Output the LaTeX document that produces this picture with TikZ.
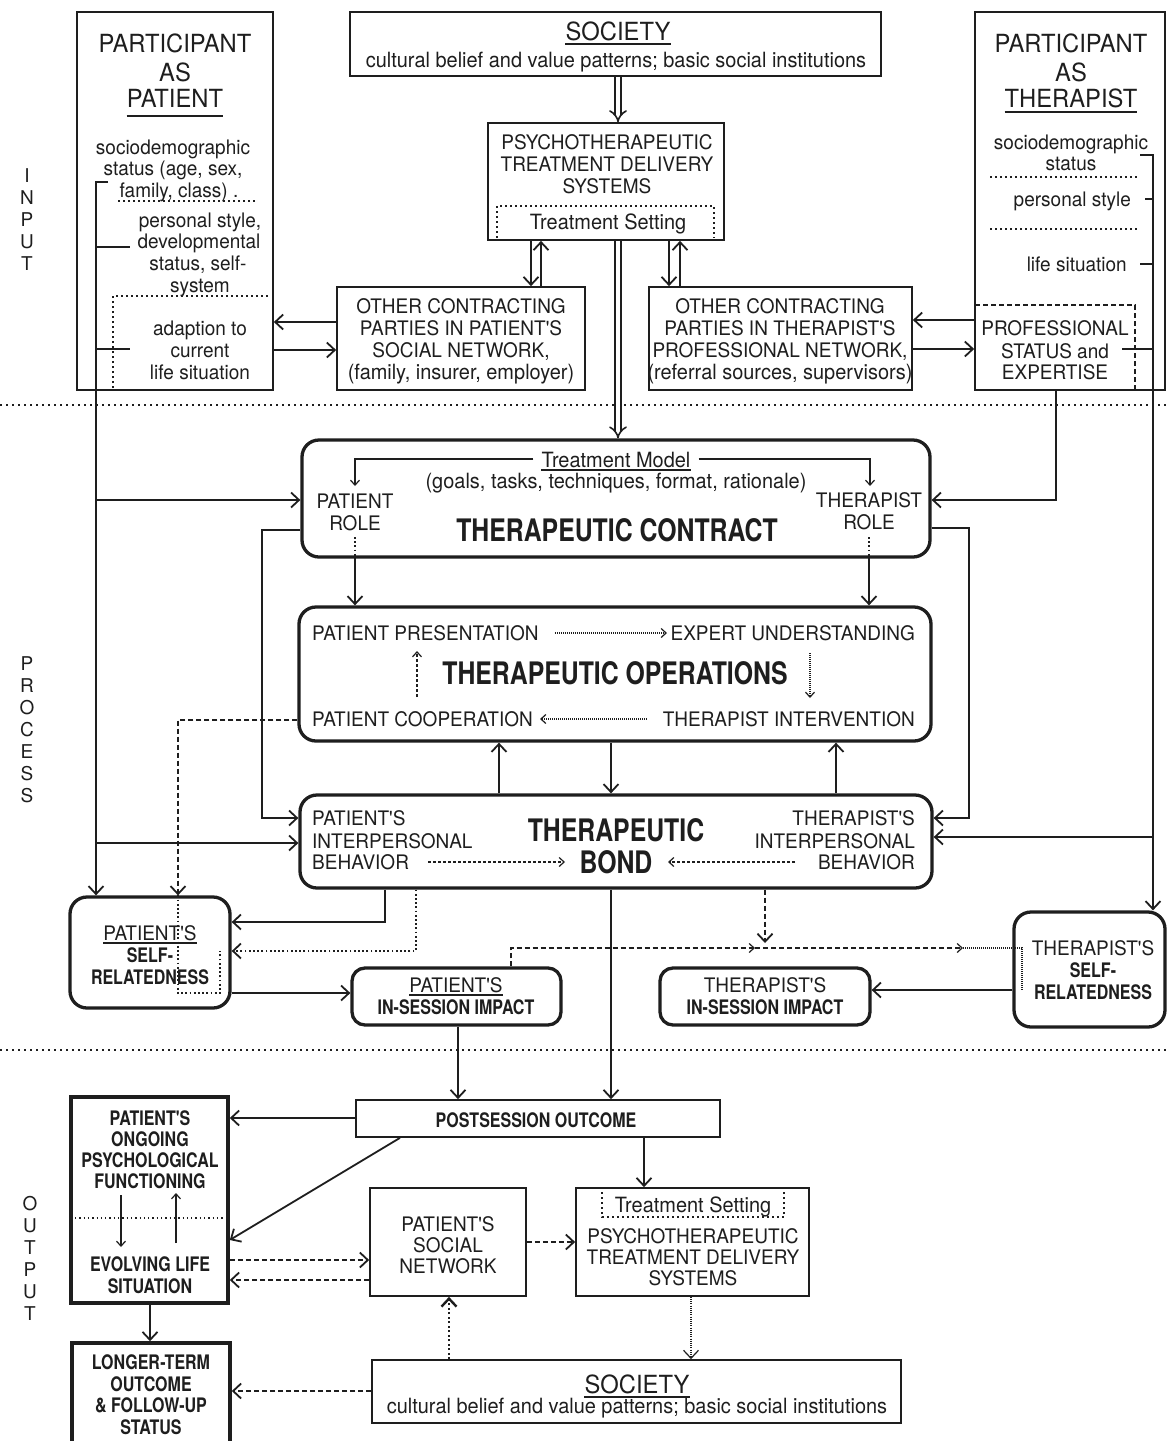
\documentclass[tikz,border=0pt]{standalone}
\usepackage{fontspec}
\setmainfont{TeX Gyre Heros}
\newfontfamily\rgf[FakeStretch=0.95]{TeX Gyre Heros}
\newfontfamily\bdf[FakeStretch=0.8]{TeX Gyre Heros}
\usetikzlibrary{arrows.meta}
\definecolor{ink}{HTML}{1E1E1E}
\newcommand\txl[5]{\node[anchor=base,#1] (#2) at (#3,#4) {#5};}
\newcommand\mkbox[6]{\node[#1,minimum width={(#5-#3)*1pt},minimum height={(#6-#4)*1pt}] (#2) at ({(#3+#5)/2},{(#4+#6)/2}) {};}
\newcommand\undl[2]{\draw[ink,line width=1.3pt] ([yshift=-#2pt]#1.base west) -- ([yshift=-#2pt]#1.base east);}
\tikzset{
  every node/.style={text=ink},
  rg/.style={inner sep=0pt,font={\rgf\fontsize{20}{22}\selectfont}},
  lc/.style={inner sep=0pt,font={\rgf\fontsize{21}{22}\selectfont}},
  tt/.style={inner sep=0pt,font={\rgf\fontsize{25}{27}\selectfont}},
  bs/.style={inner sep=0pt,font={\bdf\bfseries\fontsize{20}{22}\selectfont}},
  bl/.style={inner sep=0pt,font={\bdf\bfseries\fontsize{31}{33}\selectfont}},
  sd/.style={inner sep=0pt,align=center,font={\fontsize{19}{22}\selectfont}},
  tbox/.style={draw=ink,line width=1.7pt,inner sep=0pt},
  kbox/.style={draw=ink,line width=3.6pt,inner sep=0pt},
  rbox/.style={draw=ink,line width=3.3pt,rounded corners=17pt,inner sep=0pt},
  sbox/.style={draw=ink,line width=3.3pt,rounded corners=13pt,inner sep=0pt},
  ln/.style={draw=ink,line width=1.8pt},
  fine/.style={draw=ink,line width=1.2pt},
  arr/.style={-{Straight Barb[length=8pt,width=15pt]}},
  sarr/.style={-{Straight Barb[length=5pt,width=9pt]}},
  dsh/.style={dash pattern=on 5pt off 3pt},
  dtt/.style={dash pattern=on 1.8pt off 2.4pt},
  dotsep/.style={draw=ink,line width=1.7pt,dash pattern=on 1.7pt off 4.3pt},
  dotin/.style={draw=ink,line width=1.6pt,dash pattern=on 1.6pt off 3.4pt},
  dbl/.style={draw=ink,double,double distance=4.5pt,line width=1.6pt,-{Implies}},
}
\begin{document}
\begin{tikzpicture}[x=1pt,y=-1pt]
\useasboundingbox (0,0) rectangle (1168,1441);
\fill[white] (0,0) rectangle (1168,1441);

% separators
\path[dotsep] (0,405) -- (1168,405);
\path[dotsep] (0,1050) -- (1168,1050);

% side labels
\node[sd,anchor=north] (sideIn) at (27,168) {I\\N\\P\\U\\T};
\node[sd,anchor=north] (sideProc) at (27,656) {P\\R\\O\\C\\E\\S\\S};
\node[sd,anchor=north] (sideOut) at (30,1196) {O\\U\\T\\P\\U\\T};

% boxes
\mkbox{tbox}{ppat}{77}{12}{273}{390}
\mkbox{tbox}{socA}{350}{12}{881}{76}
\mkbox{tbox}{ptdsA}{488}{123}{724}{240}
\mkbox{tbox}{ocp}{337}{287}{585}{390}
\mkbox{tbox}{oct}{649}{287}{912}{390}
\mkbox{tbox}{pthe}{975}{12}{1165}{390}
\mkbox{rbox}{contract}{302}{440}{930}{557}
\mkbox{rbox}{ops}{299}{607}{931}{741}
\mkbox{rbox}{bond}{300}{795}{932}{888}
\mkbox{rbox}{pself}{70}{897}{230}{1008}
\mkbox{sbox}{pimp}{352}{968}{561}{1025}
\mkbox{sbox}{timp}{660}{968}{870}{1025}
\mkbox{rbox}{tself}{1014}{912}{1165}{1027}
\mkbox{tbox}{post}{356}{1100}{720}{1137}
\mkbox{kbox}{ongo}{71}{1097}{228}{1303}
\mkbox{kbox}{longer}{72}{1343}{230}{1448}
\mkbox{tbox}{psn}{370}{1188}{526}{1296}
\mkbox{tbox}{ptdsB}{576}{1188}{809}{1296}
\mkbox{tbox}{socB}{372}{1360}{901}{1423}

% participant as patient
\txl{tt}{ppatA}{175}{52}{PARTICIPANT}
\txl{tt}{ppatB}{175}{81}{AS}
\txl{tt}{ppatC}{175}{107}{PATIENT}
\undl{ppatC}{9}
\txl{rg}{ppatD}{173}{154}{sociodemographic}
\txl{rg}{ppatE}{173}{175}{status (age, sex,}
\txl{rg}{ppatF}{179}{197}{family, class) .}
\txl{rg}{ppatG}{200}{227}{personal style,}
\txl{rg}{ppatH}{199}{248}{developmental}
\txl{rg}{ppatI}{198}{270}{status, self-}
\txl{rg}{ppatJ}{200}{292}{system}
\txl{rg}{ppatK}{200}{335}{adaption to}
\txl{rg}{ppatL}{200}{357}{current}
\txl{rg}{ppatM}{200}{379}{life situation}
\path[dotin] (118,201) -- (257,201);
\path[dotin] (113,388) -- (113,296) -- (270,296);

% society top
\txl{tt}{socA1}{618}{40}{SOCIETY}
\undl{socA1}{4}
\txl{lc}{socA2}{616}{67}{cultural belief and value patterns; basic social institutions}

% psychotherapeutic top
\txl{rg}{ptdsA1}{607}{149}{PSYCHOTHERAPEUTIC}
\txl{rg}{ptdsA2}{607}{171}{TREATMENT DELIVERY}
\txl{rg}{ptdsA3}{607}{193}{SYSTEMS}
\txl{lc}{ptdsA4}{608}{229}{Treatment Setting}
\path[dotin] (497,238) -- (497,206) -- (714,206) -- (714,238);

% other contracting parties
\txl{rg}{ocp1}{461}{313}{OTHER CONTRACTING}
\txl{rg}{ocp2}{461}{335}{PARTIES IN PATIENT'S}
\txl{rg}{ocp3}{461}{357}{SOCIAL NETWORK,}
\txl{lc}{ocp4}{461}{379}{(family, insurer, employer)}
\txl{rg}{oct1}{780}{313}{OTHER CONTRACTING}
\txl{rg}{oct2}{780}{335}{PARTIES IN THERAPIST'S}
\txl{rg}{oct3}{780}{357}{PROFESSIONAL NETWORK,}
\txl{lc}{oct4}{780}{379}{(referral sources, supervisors)}

% participant as therapist
\txl{tt}{pthe1}{1071}{52}{PARTICIPANT}
\txl{tt}{pthe2}{1071}{81}{AS}
\txl{tt}{pthe3}{1071}{107}{THERAPIST}
\undl{pthe3}{5}
\txl{rg}{pthe4}{1071}{149}{sociodemographic}
\txl{rg}{pthe5}{1071}{170}{status}
\txl{rg,anchor=base east}{pthe6}{1131}{206}{personal style}
\txl{rg,anchor=base east}{pthe7}{1127}{271}{life situation}
\txl{rg}{pthe8}{1055}{335}{PROFESSIONAL}
\txl{rg}{pthe9}{1055}{358}{STATUS and}
\txl{rg}{pthe10}{1055}{379}{EXPERTISE}
\path[dotin] (990,177) -- (1137,177);
\path[dotin] (990,229) -- (1137,229);
\draw[ink,line width=1.6pt,dash pattern=on 5pt off 3pt] (975,305) -- (1135,305) -- (1135,390);

% therapeutic contract
\txl{lc}{tm1}{616}{467}{Treatment Model}
\undl{tm1}{3}
\txl{lc}{tm2}{616}{488}{(goals, tasks, techniques, format, rationale)}
\txl{rg}{prole1}{355}{508}{PATIENT}
\txl{rg}{prole2}{355}{530}{ROLE}
\txl{rg}{trole1}{869}{507}{THERAPIST}
\txl{rg}{trole2}{869}{529}{ROLE}
\txl{bl}{contractT}{617}{541}{THERAPEUTIC CONTRACT}

% therapeutic operations
\txl{rg,anchor=base west}{op1}{312}{640}{PATIENT PRESENTATION}
\txl{rg,anchor=base east}{op2}{915}{640}{EXPERT UNDERSTANDING}
\txl{bl}{opT}{615}{684}{THERAPEUTIC OPERATIONS}
\txl{rg,anchor=base west}{op3}{312}{726}{PATIENT COOPERATION}
\txl{rg,anchor=base east}{op4}{915}{726}{THERAPIST INTERVENTION}

% therapeutic bond
\txl{rg,anchor=base west}{bd1}{312}{825}{PATIENT'S}
\txl{rg,anchor=base west}{bd2}{312}{848}{INTERPERSONAL}
\txl{rg,anchor=base west}{bd3}{312}{869}{BEHAVIOR}
\txl{rg,anchor=base east}{bd4}{915}{825}{THERAPIST'S}
\txl{rg,anchor=base east}{bd5}{915}{848}{INTERPERSONAL}
\txl{rg,anchor=base east}{bd6}{915}{869}{BEHAVIOR}
\txl{bl}{bdT1}{616}{841}{THERAPEUTIC}
\txl{bl}{bdT2}{616}{873}{BOND}

% self-relatedness and impact boxes
\txl{rg}{ps1}{150}{940}{PATIENT'S}
\undl{ps1}{3}
\txl{bs}{ps2}{150}{962}{SELF-}
\txl{bs}{ps3}{150}{984}{RELATEDNESS}
\txl{rg}{pi1}{456}{992}{PATIENT'S}
\undl{pi1}{3}
\txl{bs}{pi2}{456}{1014}{IN-SESSION IMPACT}
\txl{rg}{ti1}{765}{992}{THERAPIST'S}
\txl{bs}{ti2}{765}{1014}{IN-SESSION IMPACT}
\txl{rg}{ts1}{1093}{955}{THERAPIST'S}
\txl{bs}{ts2}{1093}{977}{SELF-}
\txl{bs}{ts3}{1093}{999}{RELATEDNESS}

% output
\txl{bs}{postT}{536}{1127}{POSTSESSION OUTCOME}
\txl{bs}{og1}{150}{1125}{PATIENT'S}
\txl{bs}{og2}{150}{1146}{ONGOING}
\txl{bs}{og3}{150}{1167}{PSYCHOLOGICAL}
\txl{bs}{og4}{150}{1188}{FUNCTIONING}
\txl{bs}{og5}{150}{1271}{EVOLVING LIFE}
\txl{bs}{og6}{150}{1293}{SITUATION}
\draw[ink,line width=1.3pt,dash pattern=on 1.3pt off 3pt] (75,1218) -- (225,1218);
\draw[fine,sarr] (121,1195) -- (121,1247);
\draw[fine,sarr] (176,1243) -- (176,1193);
\txl{bs}{lg1}{151}{1369}{LONGER-TERM}
\txl{bs}{lg2}{151}{1391}{OUTCOME}
\txl{bs}{lg3}{151}{1412}{\& FOLLOW-UP}
\txl{bs}{lg4}{151}{1434}{STATUS}
\txl{rg}{sn1}{448}{1231}{PATIENT'S}
\txl{rg}{sn2}{448}{1252}{SOCIAL}
\txl{rg}{sn3}{448}{1273}{NETWORK}
\txl{lc}{pb0}{693}{1212}{Treatment Setting}
\path[dotin] (602,1192) -- (602,1217) -- (784,1217) -- (784,1192);
\txl{rg}{pb1}{693}{1243}{PSYCHOTHERAPEUTIC}
\txl{rg}{pb2}{693}{1264}{TREATMENT DELIVERY}
\txl{rg}{pb3}{693}{1285}{SYSTEMS}
\txl{tt}{sb1}{637}{1393}{SOCIETY}
\undl{sb1}{4}
\txl{lc}{sb2}{637}{1413}{cultural belief and value patterns; basic social institutions}

% ---------- connectors ----------
\draw[dbl] (socA.south -| 618,0) -- (ptdsA.north -| 618,0);
\draw[dbl] (ptdsA.south -| 618,0) -- (contract.north -| 618,0);
\draw[ln,arr] (ptdsA.south -| 531,0) -- (ocp.north -| 531,0);
\draw[ln,arr] (ocp.north -| 541,0) -- (ptdsA.south -| 541,0);
\draw[ln,arr] (ptdsA.south -| 669,0) -- (oct.north -| 669,0);
\draw[ln,arr] (oct.north -| 680,0) -- (ptdsA.south -| 680,0);
\draw[ln,arr] (ocp.west |- 0,322) -- (ppat.east |- 0,322);
\draw[ln,arr] (ppat.east |- 0,350) -- (ocp.west |- 0,350);
\draw[ln,arr] (pthe.west |- 0,320) -- (oct.east |- 0,320);
\draw[ln,arr] (oct.east |- 0,349) -- (pthe.west |- 0,349);

% patient bracket
\coordinate (pbTop) at (108,182);
\draw[ln,arr] (pbTop) -- (96,182) -- (pself.north -| 96,0);
\draw[ln] (96,247) -- (130,247);
\draw[ln] (96,349) -- (130,349);
\draw[ln,arr] (96,500) -- (contract.west |- 0,500);
\draw[ln,arr] (96,843) -- (bond.west |- 0,843);

% therapist bracket
\coordinate (tbTop) at (1140,155);
\draw[ln,arr] (tbTop) -- (1153,155) -- (tself.north -| 1153,0);
\draw[ln] (1145,199) -- (1153,199);
\draw[ln] (1140,264) -- (1153,264);
\draw[ln] (1122,349) -- (1153,349);
\draw[ln,arr] (1153,837) -- (bond.east |- 0,837);
\draw[ln,arr] (pthe.south -| 1056,0) -- (1056,500) -- (contract.east |- 0,500);

% contract to bond sides
\draw[ln,arr] (contract.west |- 0,530) -- (262,530) -- (262,818) -- (bond.west |- 0,818);
\draw[ln,arr] (contract.east |- 0,528) -- (969,528) -- (969,818) -- (bond.east |- 0,818);

% treatment model arrows
\draw[fine,sarr] (tm1.west |- 0,459) ++(-8,0) -- (355,459) -- (355,486);
\draw[fine,sarr] (tm1.east |- 0,459) ++(8,0) -- (870,459) -- (870,486);

% roles to operations
\draw[ln,dtt] (355,537) -- (contract.south -| 355,0);
\draw[ln,arr] (contract.south -| 355,0) -- (ops.north -| 355,0);
\draw[ln,dtt] (869,537) -- (contract.south -| 869,0);
\draw[ln,arr] (contract.south -| 869,0) -- (ops.north -| 869,0);

% operations internal
\draw[fine,dash pattern=on 1pt off 1pt,sarr] (op1.east |- 0,633) ++(16,0) -- (667,633);
\draw[fine,dash pattern=on 3pt off 2pt,sarr] (417,697) -- (417,651);
\draw[fine,dash pattern=on 1pt off 1pt,sarr] (810,653) -- (810,698);
\draw[fine,dash pattern=on 1pt off 1pt,sarr] (op4.west |- 0,719) ++(-16,0) -- (540,719);

% operations to self
\draw[ln,dsh,arr] (ops.west |- 0,720) -- (178,720) -- (pself.north -| 178,0);
\draw[ln,dtt] (pself.north -| 178,0) -- (178,993) -- (220,993) -- (220,951);

% operations <-> bond
\draw[ln,arr] (bond.north -| 499,0) -- (ops.south -| 499,0);
\draw[ln,arr] (ops.south -| 611,0) -- (bond.north -| 611,0);
\draw[ln,arr] (bond.north -| 836,0) -- (ops.south -| 836,0);

% bond internal
\draw[fine,dash pattern=on 3pt off 2pt,sarr] (428,862) -- (565,862);
\draw[fine,dash pattern=on 3pt off 2pt,sarr] (795,862) -- (668,862);

% bond bottom
\draw[ln,arr] (bond.south -| 385,0) -- (385,922) -- (pself.east |- 0,922);
\draw[ln,dtt,arr] (bond.south -| 416,0) -- (416,951) -- (pself.east |- 0,951);
\draw[ln,arr] (pself.east |- 0,993) -- (pimp.west |- 0,993);
\draw[ln,arr] (bond.south -| 611,0) -- (post.north -| 611,0);
\draw[ln,dsh,arr] (bond.south -| 765,0) -- (765,943);
\coordinate (midA) at (755,948);
\coordinate (midB) at (963,948);
\draw[fine,dsh,sarr] (pimp.north -| 511,0) -- (511,948) -- (midA);
\draw[fine,dsh,sarr] (midA) -- (midB);
\draw[fine,dash pattern=on 1pt off 1pt] (midB) -- (1022,948) -- (1022,990);
\draw[ln,arr] (tself.west |- 0,990) -- (timp.east |- 0,990);

% output connectors
\draw[ln,arr] (pimp.south -| 458,0) -- (post.north -| 458,0);
\draw[ln,arr] (post.west |- 0,1118) -- (ongo.east |- 0,1118);
\draw[ln,arr] (post.south -| 400,0) -- (ongo.east |- 0,1240);
\draw[ln,arr] (post.south -| 644,0) -- (ptdsB.north -| 644,0);
\draw[ln,dsh,arr] (ongo.east |- 0,1260) -- (psn.west |- 0,1260);
\draw[ln,dsh,arr] (psn.west |- 0,1280) -- (ongo.east |- 0,1280);
\draw[ln,dsh,arr] (psn.east |- 0,1242) -- (ptdsB.west |- 0,1242);
\draw[draw=ink,line width=2.4pt,dash pattern=on 2pt off 2.5pt,arr] (socB.north -| 449,0) -- (psn.south -| 449,0);
\draw[fine,dash pattern=on 1pt off 1.2pt,arr] (ptdsB.south -| 691,0) -- (socB.north -| 691,0);
\draw[ln,dsh,arr] (socB.west |- 0,1391) -- (longer.east |- 0,1391);
\draw[ln,arr] (ongo.south -| 150,0) -- (longer.north -| 150,0);
\end{tikzpicture}
\end{document}
